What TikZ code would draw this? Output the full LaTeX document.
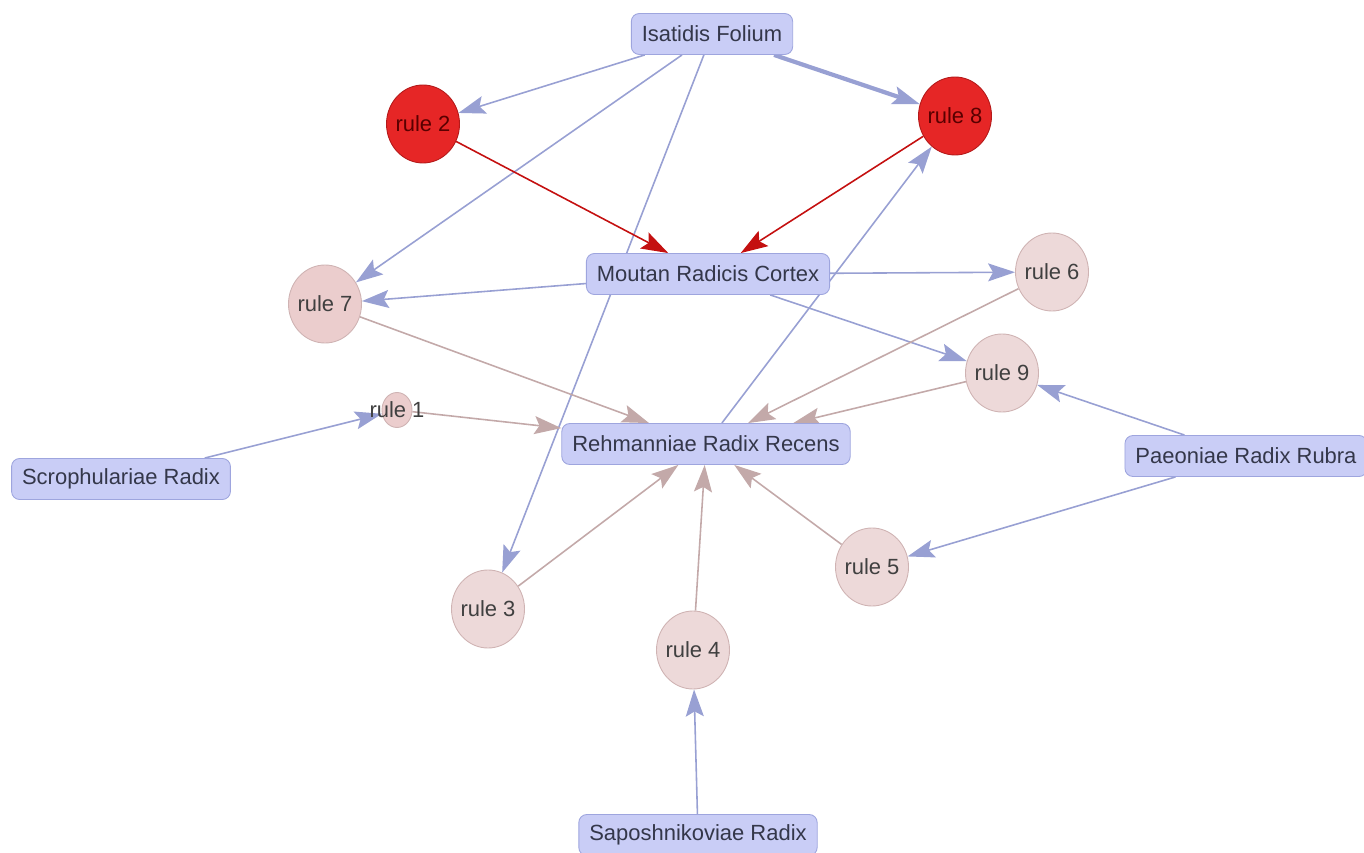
\documentclass[tikz,border=0pt]{standalone}
\usepackage{fontspec}
\setmainfont{Liberation Sans}
\usetikzlibrary{arrows.meta,shapes.geometric,backgrounds}
\definecolor{herbfill}{HTML}{C9CDF6}
\definecolor{herbline}{HTML}{9EA5DE}
\definecolor{rulefill}{HTML}{EDD9D9}
\definecolor{pinkfill}{HTML}{EBCDCD}
\definecolor{ruleline}{HTML}{CFB3B3}
\definecolor{hotfill}{HTML}{E62626}
\definecolor{hotline}{HTML}{B41A1A}
\definecolor{feedcol}{HTML}{98A0D3}
\definecolor{intocol}{HTML}{C3A9A9}
\definecolor{firecol}{HTML}{C41010}
\definecolor{inkcol}{HTML}{34374A}
\begin{document}
\begin{tikzpicture}[x=0.2mm,y=-0.2mm,line join=round,
	font=\fontsize{12.5}{15}\selectfont,
	>={Stealth[length=5.4mm,width=3.6mm,inset=1mm]},
	herb/.style={draw=herbline,fill=herbfill,rounded corners=1.6mm,text=inkcol,inner xsep=2.1mm,minimum height=8.2mm,line width=0.5pt},
	rulenode/.style={ellipse,draw=ruleline,fill=rulefill,text=black!75,minimum width=14.6mm,minimum height=15.6mm,inner xsep=-1.5mm,inner ysep=0pt,line width=0.5pt},
	hot/.style={rulenode,draw=hotline,fill=hotfill,text=red!35!black},
	feed/.style={->,draw=feedcol,line width=0.9pt},
	into/.style={->,draw=intocol,line width=0.9pt},
	fire/.style={->,draw=firecol,line width=0.9pt}]
		\useasboundingbox (0,0) rectangle (1364,853);
		% herbs
		\node[herb] (isat) at (712,34) {Isatidis Folium};
		\node[herb] (mout) at (708,274) {Moutan Radicis Cortex};
		\node[herb] (rehm) at (706,444) {Rehmanniae Radix Recens};
		\node[herb] (scro) at (121,479) {Scrophulariae Radix};
		\node[herb] (paeo) at (1246,456) {Paeoniae Radix Rubra};
		\node[herb] (sapo) at (698,835) {Saposhnikoviae Radix};
		% rules
		\node[hot] (r2) at (423,124) {rule 2};
		\node[hot] (r8) at (955,116) {rule 8};
		\node[rulenode,fill=pinkfill] (r7) at (325,304) {rule 7};
		\node[rulenode] (r6) at (1052,272) {rule 6};
		\node[rulenode] (r9) at (1002,373) {rule 9};
		\node[rulenode,fill=pinkfill,minimum width=6mm,minimum height=7mm] (r1) at (397,410) {};
		\node[text=black!75] (r1txt) at (r1) {rule 1};
		\node[rulenode] (r3) at (488,609) {rule 3};
		\node[rulenode] (r4) at (693,650) {rule 4};
		\node[rulenode] (r5) at (872,567) {rule 5};
		% links
		\begin{scope}[on background layer]
		\draw[feed] (isat)--(r2);
		\draw[feed,line width=2.4pt] (isat)--(r8);
		\draw[feed] (isat)--(r7);
		\draw[feed] (isat)--(r3);
		\draw[fire] (r2)--(mout);
		\draw[fire] (r8)--(mout);
		\draw[feed] (mout)--(r7);
		\draw[feed] (mout)--(r6);
		\draw[feed] (mout)--(r9);
		\draw[feed] (rehm)--(r8);
		\draw[feed] (scro)--(r1);
		\draw[feed] (paeo)--(r9);
		\draw[feed] (paeo)--(r5);
		\draw[feed] (sapo)--(r4);
		\foreach \r in {r1,r3,r4,r5,r6,r7,r9}
			\draw[into] (\r)--(rehm);
		\end{scope}
\end{tikzpicture}
\end{document}
